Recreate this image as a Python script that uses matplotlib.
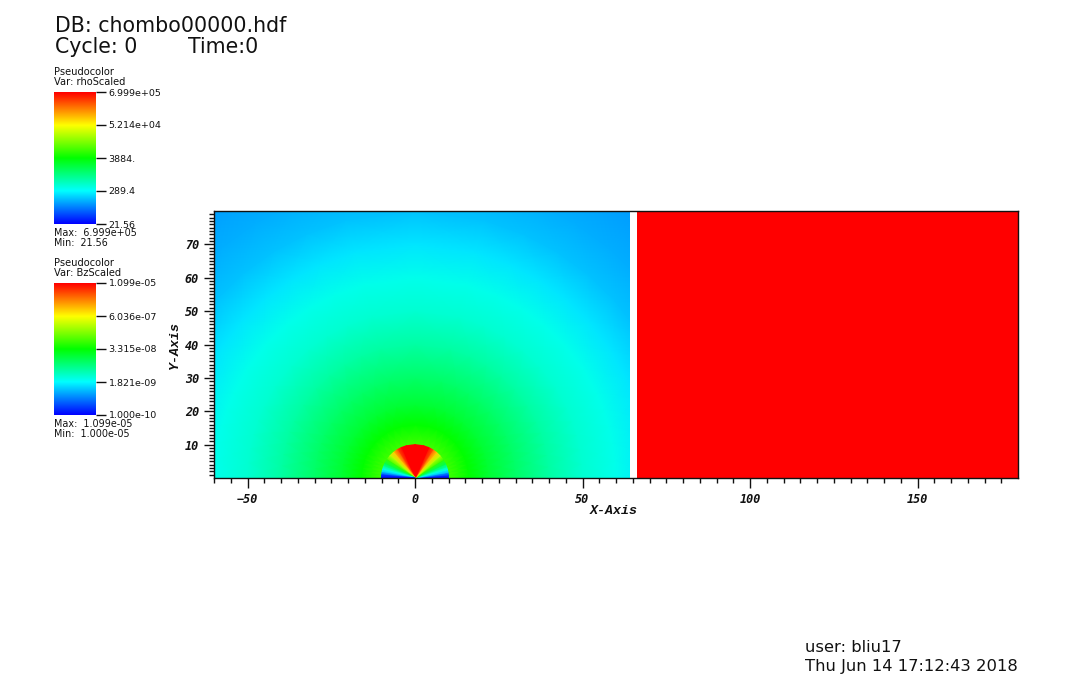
import numpy as np
import matplotlib
matplotlib.use("Agg")
import matplotlib.pyplot as plt
from matplotlib.colors import LinearSegmentedColormap
from matplotlib.patches import Rectangle

W, H = 1073, 684

# Field, as a fraction of the colour scale (0 = blue, 1 = red)
outer_radii = [10, 16, 22, 30, 40, 50, 60, 70, 80, 90, 102, 110]
outer_level = [0.56, 0.50, 0.45, 0.40, 0.34, 0.295, 0.27, 0.225, 0.19, 0.17, 0.155, 0.15]

inner_radii = [0.0, 10.0]
inner_angles = [0, 5, 10, 15, 20, 25, 33, 42, 50, 58, 66, 75, 90,
                105, 114, 122, 130, 138, 147, 155, 160, 165, 170, 175, 180]
inner_level = [0.0, 0.06, 0.19, 0.27, 0.35, 0.42, 0.55, 0.68, 0.80, 0.92, 1.0, 1.0, 1.0,
               1.0, 1.0, 0.92, 0.80, 0.68, 0.55, 0.42, 0.35, 0.27, 0.19, 0.06, 0.0]

left_block_edge = 64.2
block_x = [66.3, 180.0]
block_y = [0.0, 80.0]
block_level = [[1.0]]

x_major = [-50, 0, 50, 100, 150]
x_minor = [-60, -55, -45, -40, -35, -30, -25, -20, -15, -10, -5, 5, 10, 15, 20, 25, 30, 35, 40, 45,
           55, 60, 65, 70, 75, 80, 85, 90, 95, 105, 110, 115, 120, 125, 130, 135, 140, 145,
           155, 160, 165, 170, 175]
y_major = [10, 20, 30, 40, 50, 60, 70]
y_minor = [v for v in range(1, 80) if v % 10]

bar1_labels = ["6.999e+05", "5.214e+04", "3884.", "289.4", "21.56"]
bar2_labels = ["1.099e-05", "6.036e-07", "3.315e-08", "1.821e-09", "1.000e-10"]
bar_levels = [1.0, 0.75, 0.5, 0.25, 0.0]

cmap = LinearSegmentedColormap.from_list(
    "visit_hot", ["#0000ff", "#00ffff", "#00ff00", "#ffff00", "#ff0000"], N=512)

SANS = "DejaVu Sans"
MONO = "Liberation Mono"
TICKF = "DejaVu Sans Mono"

fig = plt.figure(figsize=(W / 100, H / 100), dpi=100)


def px_ax(x0, y0, x1, y1):
    return fig.add_axes([x0 / W, 1 - y1 / H, (x1 - x0) / W, (y1 - y0) / H])


def put(x, y, s, size, **kw):
    kw.setdefault("family", SANS)
    kw.setdefault("color", "#111111")
    kw.setdefault("va", "center")
    return fig.text(x / W, 1 - y / H, s, fontsize=size, **kw)


ax = px_ax(214, 211, 1018, 478)
ax.set_xlim(-60, 180)
ax.set_ylim(0, 80)

clip = Rectangle((-60, 0), 60 + left_block_edge, 80, transform=ax.transData)

r, t = np.meshgrid(outer_radii, inner_angles, indexing="xy")
out_z = np.tile(outer_level, (len(inner_angles), 1))
m1 = ax.pcolormesh(r * np.cos(np.radians(t)), r * np.sin(np.radians(t)), out_z,
                   cmap=cmap, vmin=0, vmax=1, shading="gouraud")
m1.set_clip_path(clip)

r, t = np.meshgrid(inner_radii, inner_angles, indexing="xy")
in_z = np.column_stack([inner_level, inner_level])
ax.pcolormesh(r * np.cos(np.radians(t)), r * np.sin(np.radians(t)), in_z,
              cmap=cmap, vmin=0, vmax=1, shading="gouraud", zorder=2)

ax.pcolormesh(block_x, block_y, block_level, cmap=cmap, vmin=0, vmax=1, shading="flat")

ax.set_xticks(x_major)
ax.set_xticks(x_minor, minor=True)
ax.set_yticks(y_major)
ax.set_yticks(y_minor, minor=True)
ax.set_xticklabels([str(v).replace("-", "\u2212") for v in x_major])
ax.tick_params(axis="both", which="major", length=7.2, width=1.0, color="#111111", pad=3.5,
               labelcolor="#111111")
ax.tick_params(axis="both", which="minor", length=3.8, width=1.0, color="#111111")
for lab in ax.get_xticklabels() + ax.get_yticklabels():
    lab.set_family(TICKF)
    lab.set_fontweight("bold")
    lab.set_fontstyle("oblique")
    lab.set_fontsize(8.5)
for s in ax.spines.values():
    s.set_linewidth(1.0)
    s.set_color("#111111")
    s.set_zorder(5)

put(614, 511, "X-Axis", 9.5, family=MONO, fontweight="bold", fontstyle="italic", ha="center")
put(175, 345, "Y-Axis", 9.5, family=MONO, fontweight="bold", fontstyle="italic",
    ha="center", rotation=90)


def colour_bar(top, labels, var, maxs, mins):
    bar = px_ax(54, top, 96, top + 132)
    bar.imshow(np.linspace(1, 0, 256)[:, None],
               cmap=cmap, vmin=0, vmax=1, aspect="auto", extent=(0, 1, 0, 1))
    bar.set_xticks([])
    bar.yaxis.tick_right()
    bar.set_yticks(bar_levels)
    bar.set_yticklabels(labels, family=SANS, fontsize=6.8, color="#111111")
    bar.tick_params(axis="y", length=7, width=1.0, pad=2, color="#111111")
    for s in bar.spines.values():
        s.set_visible(False)
    put(54, top - 20, "Pseudocolor", 7.1)
    put(54, top - 10, var, 7.1)
    put(54, top + 141, maxs, 6.9)
    put(54, top + 151, mins, 6.9)


colour_bar(92, bar1_labels, "Var: rhoScaled", "Max:  6.999e+05", "Min:  21.56")
colour_bar(283, bar2_labels, "Var: BzScaled", "Max:  1.099e-05", "Min:  1.000e-05")

put(55, 26, "DB: chombo00000.hdf", 14.8)
put(55, 47, "Cycle: 0", 14.8)
put(188, 47, "Time:0", 14.8)
put(805, 647, "user: bliu17", 11.8)
put(805, 666, "Thu Jun 14 17:12:43 2018", 11.8)

fig.savefig("out.png", dpi=100)
